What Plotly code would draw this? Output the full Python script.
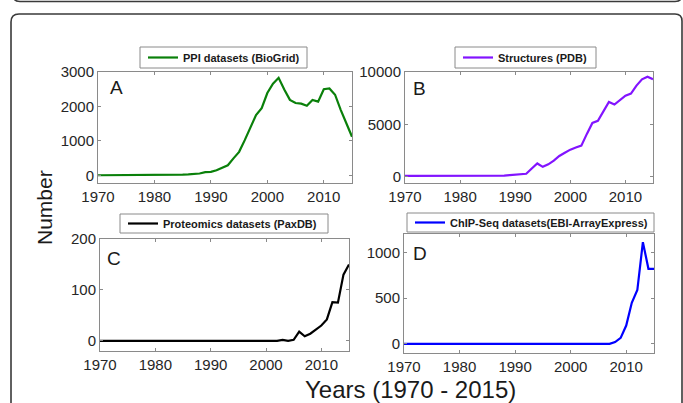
import plotly.graph_objects as go

W, H = 683, 403

years = list(range(1970, 2016))

ppi_biogrid = [0, 0, 0, 0, 0, 0, 0, 2, 2, 3, 5, 6, 8, 10, 14, 20, 26, 32, 50, 90,
               100, 145, 225, 290, 490, 680, 1020, 1365, 1750, 1950, 2390, 2660,
               2830, 2490, 2190, 2100, 2080, 2020, 2190, 2140, 2500, 2520, 2340,
               1900, 1510, 1120]

pdb_structures = [100, 100, 100, 100, 100, 100, 100, 90, 90, 100, 100, 100, 110,
                  110, 100, 100, 100, 110, 130, 170, 220, 290, 300, 800, 1280,
                  960, 1200, 1550, 2000, 2300, 2600, 2800, 2980, 4100, 5140, 5350,
                  6300, 7140, 6900, 7300, 7750, 7950, 8700, 9300, 9550, 9300]

paxdb_proteomics = [0] * 33 + [2, 0, 2, 18, 9, 14, 22, 30, 42, 76, 75, 130, 150]

chipseq_ebi = [0] * 37 + [0, 20, 65, 200, 449, 588, 1111, 820, 820]

series_names = ["PPI datasets (BioGrid)", "Structures (PDB)",
                "Proteomics datasets (PaxDB)", "ChIP-Seq datasets(EBI-ArrayExpress)"]
panel_letters = ["A", "B", "C", "D"]
x_ticks = [1970, 1980, 1990, 2000, 2010]
y_ticks = [[0, 1000, 2000, 3000], [0, 5000, 10000], [0, 100, 200], [0, 500, 1000]]
y_ranges = [[-225, 3000], [-580, 10000], [-20, 200], [-100, 1200]]
colors = ["rgb(10,128,10)", "rgb(130,20,255)", "rgb(0,0,0)", "rgb(0,0,255)"]

FONT = "Liberation Sans, Arial, sans-serif"


def px(x):
    return x / W


def py(y):
    return 1 - y / H


# plot areas in pixels (left, right, top, bottom)
boxes = [(98, 352, 72, 183), (405, 653, 72, 183), (100, 349, 239, 351), (404, 654, 234, 353)]
# legend frames in pixels (left, right, top, bottom)
legend_boxes = [(140, 307, 47, 68), (455, 596, 47, 68), (120, 328, 214, 233), (407, 654, 213, 232)]
letter_pos = [(108, 75), (411, 76), (105, 246), (411, 241)]

data = [ppi_biogrid, pdb_structures, paxdb_proteomics, chipseq_ebi]

fig = go.Figure()
layout_upd = {}
shapes = []
for i in range(4):
    ax = "" if i == 0 else str(i + 1)
    lg = "legend" if i == 0 else "legend" + str(i + 1)
    fig.add_trace(go.Scatter(
        x=years, y=data[i], mode="lines", name=series_names[i],
        line=dict(color=colors[i], width=2.2),
        xaxis="x" + ax, yaxis="y" + ax, legend=lg, showlegend=True,
    ))
    l, r, t, b = boxes[i]
    axis_common = dict(
        showline=True, linecolor="#8a8a8a", linewidth=1, mirror="ticks",
        ticks="inside", ticklen=3, tickcolor="#8a8a8a", showgrid=False,
        zeroline=False, automargin=False,
        tickfont=dict(family=FONT, size=15, color="#262626"),
    )
    layout_upd["xaxis" + ax] = dict(
        domain=[px(l), px(r)], anchor="y" + ax, range=[1970, 2015],
        tickvals=x_ticks, ticktext=[str(v) for v in x_ticks], ticklabelstandoff=0,
        **axis_common)
    layout_upd["yaxis" + ax] = dict(
        domain=[py(b), py(t)], anchor="x" + ax, range=y_ranges[i],
        tickvals=y_ticks[i], ticktext=[str(v) for v in y_ticks[i]],
        **axis_common)
    ll, lr, lt, lb = legend_boxes[i]
    layout_upd[lg] = dict(
        x=px(ll + 3), y=py((lt + lb) / 2), xanchor="left", yanchor="middle",
        xref="paper", yref="paper",
        borderwidth=0, bgcolor="rgba(0,0,0,0)",
        font=dict(family=FONT, size=11, color="#1a1a1a", weight="bold"),
        itemwidth=30, tracegroupgap=0,
    )
    shapes.append(dict(type="rect", xref="paper", yref="paper",
                       x0=px(ll), x1=px(lr), y0=py(lb), y1=py(lt),
                       line=dict(color="#8a8a8a", width=1), fillcolor="white",
                       layer="below"))

fig.update_layout(**layout_upd)

annotations = []
for i in range(4):
    ax_, ay_ = letter_pos[i]
    annotations.append(dict(
        text=panel_letters[i], x=px(ax_), y=py(ay_), xref="paper", yref="paper",
        xanchor="left", yanchor="top", showarrow=False,
        font=dict(family=FONT, size=19, color="#1a1a1a")))
annotations.append(dict(
    text="Number", x=px(44), y=py(208), xref="paper", yref="paper",
    xanchor="center", yanchor="middle", textangle=-90, showarrow=False,
    font=dict(family=FONT, size=21, color="#1a1a1a")))
annotations.append(dict(
    text="Years (1970 - 2015)", x=px(410), y=py(389.5), xref="paper", yref="paper",
    xanchor="center", yanchor="middle", showarrow=False, borderpad=0,
    font=dict(family=FONT, size=24, color="#1a1a1a")))


def path(points):
    s = ""
    for cmd, pts in points:
        s += cmd + " " + " ".join(f"{px(x):.5f},{py(y):.5f}" for x, y in pts) + " "
    return s.strip()


frame1 = path([("M", [(13, -10)]), ("L", [(13, -5)]), ("Q", [(13, 1.5), (20, 1.5)]),
               ("L", [(675, 1.5)]), ("Q", [(682, 1.5), (682, -5)]), ("L", [(682, -10)])])
frame2 = path([("M", [(11, 420)]), ("L", [(11, 22)]), ("Q", [(11, 14), (19, 14)]),
               ("L", [(675, 14)]), ("Q", [(682, 14), (682, 21)]), ("L", [(682, 420)])])

shapes += [
    dict(type="path", path=frame1, xref="paper", yref="paper",
         line=dict(color="#3a3a3a", width=1.6)),
    dict(type="path", path=frame2, xref="paper", yref="paper",
         line=dict(color="#3a3a3a", width=1.6)),
]

fig.update_layout(
    width=W, height=H, margin=dict(l=0, r=0, t=0, b=0),
    paper_bgcolor="white", plot_bgcolor="white",
    annotations=annotations, shapes=shapes, template="none",
    font=dict(family=FONT),
)

fig.write_html("out.html", config={"displayModeBar": False},
               post_script="document.body.style.margin='0';")
